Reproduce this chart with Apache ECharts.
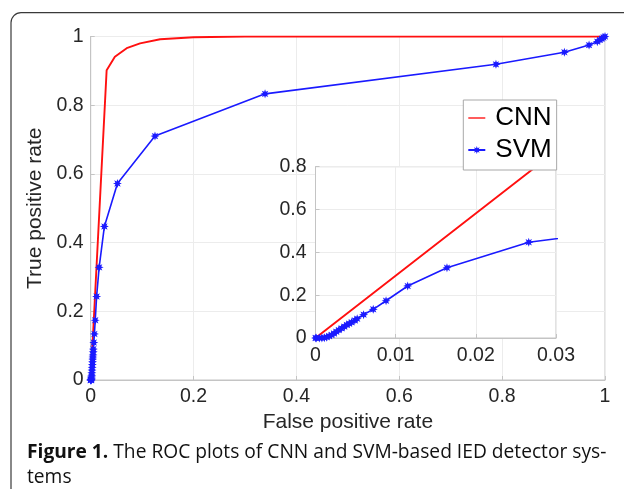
<!DOCTYPE html>
<html>
<head>
<meta charset="utf-8">
<script src="https://cdn.jsdelivr.net/npm/echarts@6/dist/echarts.min.js"></script>
<style>html,body{margin:0;padding:0;background:#fff;}#c{width:624px;height:489px;}</style>
</head>
<body>
<div id="c"></div>
<script>
// ---- data ----
const fprCNN = [0, 0.031, 0.047, 0.07, 0.096, 0.135, 0.2, 0.3, 1];
const tprCNN = [0, 0.902, 0.941, 0.966, 0.98, 0.992, 0.998, 1, 1];
const fprSVM = [0, 0.0001, 0.0005, 0.0008, 0.0011, 0.0014, 0.0017, 0.002, 0.0023, 0.0026, 0.0029, 0.00325, 0.0036, 0.0039, 0.0042, 0.0045, 0.0049, 0.0052, 0.006, 0.0072, 0.0088, 0.0115, 0.0164, 0.0266, 0.052, 0.125, 0.339, 0.788, 0.921, 0.969, 0.985, 0.99, 0.994, 0.997, 1];
const tprSVM = [0, 0, 0, 0, 0.001, 0.004, 0.009, 0.014, 0.021, 0.029, 0.037, 0.045, 0.053, 0.061, 0.067, 0.073, 0.082, 0.09, 0.109, 0.134, 0.174, 0.243, 0.328, 0.447, 0.572, 0.71, 0.833, 0.919, 0.954, 0.975, 0.985, 0.99, 0.994, 0.997, 1];
const seriesNames = ['CNN', 'SVM'];
const mainXLabel = 'False positive rate';
const mainYLabel = 'True positive rate';
const captionBold = 'Figure 1.';
const captionLine1 = ' The ROC plots of CNN and SVM-based IED detector sys-';
const captionLine2 = 'tems';

const zip = (a, b) => a.map((v, i) => [v, b[i]]);
const cnnData = zip(fprCNN, tprCNN);
const svmData = zip(fprSVM, tprSVM);

const RED = '#ff1010';
const BLUE = '#1a1aff';
const TXT = '#262626';
const GRIDC = '#ececec';
const BOX = '#c4c4c4';
const FONT = '"Liberation Sans", Arial, sans-serif';
const STAR = 'path://M5,0 L2.3,0.95 L3.54,3.54 L0.95,2.3 L0,5 L-0.95,2.3 L-3.54,3.54 L-2.3,0.95 L-5,0 L-2.3,-0.95 L-3.54,-3.54 L-0.95,-2.3 L0,-5 L0.95,-2.3 L3.54,-3.54 L2.3,-0.95 Z';
const DASH = 'path://M0,0 L20,0 L20,1.6 L0,1.6 Z';

const G0 = {left: 90.7, top: 36.5, width: 514.3, height: 343.5};
const G1 = {left: 315.5, top: 166.7, width: 240.5, height: 171.3};

function axisCommon(extra) {
  return Object.assign({
    axisLine: {show: true, onZero: false, lineStyle: {color: BOX, width: 1}},
    axisTick: {show: true, inside: true, length: 4, lineStyle: {color: BOX}},
    splitLine: {show: true, lineStyle: {color: GRIDC, width: 1}},
    nameTextStyle: {color: TXT, fontSize: 21, fontFamily: FONT}
  }, extra);
}
const tickLabel = (m) => ({color: TXT, fontSize: 19.5, fontFamily: FONT, margin: m});

const chart = echarts.init(document.getElementById('c'), null, {renderer: 'canvas'});
chart.setOption({
  animation: false,
  backgroundColor: '#fff',
  grid: [
    Object.assign({show: true, borderColor: BOX, borderWidth: 1, backgroundColor: 'transparent', containLabel: false, z: 0}, G0),
    Object.assign({show: true, borderColor: BOX, borderWidth: 1, backgroundColor: '#fff', containLabel: false, z: 2}, G1)
  ],
  xAxis: [
    axisCommon({type: 'value', gridIndex: 0, min: 0, max: 1, interval: 0.2,
      name: mainXLabel, nameLocation: 'middle', nameGap: 27, axisLabel: tickLabel(7)}),
    axisCommon({type: 'value', gridIndex: 1, min: 0, max: 0.03, interval: 0.01, z: 2, axisLabel: tickLabel(8)})
  ],
  yAxis: [
    axisCommon({type: 'value', gridIndex: 0, min: 0, max: 1, interval: 0.2,
      name: mainYLabel, nameLocation: 'middle', nameGap: 36, axisLabel: tickLabel(7)}),
    axisCommon({type: 'value', gridIndex: 1, min: 0, max: 0.8, interval: 0.2, z: 2, axisLabel: tickLabel(9)})
  ],
  legend: {
    data: [{name: seriesNames[0], icon: DASH}, {name: seriesNames[1]}],
    symbolKeepAspect: true,
    orient: 'vertical',
    left: 463.3, top: 100,
    padding: [5, 5, 7, 4],
    itemGap: 6,
    itemWidth: 17, itemHeight: 10,
    backgroundColor: '#fff',
    borderColor: '#a8a8a8', borderWidth: 1, borderRadius: 0,
    textStyle: {color: '#000', fontSize: 26, fontFamily: FONT, lineHeight: 24, padding: [0, 0, 0, 5]},
    z: 6
  },
  graphic: [
    {type: 'rect', z: -10, shape: {x: 11, y: 12.7, width: 700, height: 600, r: 10},
     style: {fill: 'none', stroke: '#3a3a3a', lineWidth: 1.2}},
    {type: 'rect', z: 1, shape: {x: G1.left, y: G1.top, width: G1.width, height: G1.height},
     style: {fill: '#fff'}},
    {type: 'text', left: 27, top: 443, z: 5,
     style: {text: '{b|' + captionBold + '}' + captionLine1, fill: '#111', font: '19.2px "Open Sans", sans-serif',
       rich: {b: {fontWeight: 'bold', fontSize: 19.2, fontFamily: '"Open Sans", sans-serif', fill: '#111'}}}},
    {type: 'text', left: 27, top: 468, z: 5,
     style: {text: captionLine2, fill: '#111', font: '19.2px "Open Sans", sans-serif'}}
  ],
  series: [
    {name: seriesNames[0], type: 'line', xAxisIndex: 0, yAxisIndex: 0, data: cnnData,
     symbol: 'none', lineStyle: {color: RED, width: 1.9}, itemStyle: {color: RED}, z: 3},
    {name: seriesNames[1], type: 'line', xAxisIndex: 0, yAxisIndex: 0, data: svmData,
     symbol: STAR, symbolSize: 9, showSymbol: true, lineStyle: {color: BLUE, width: 1.6}, itemStyle: {color: BLUE}, z: 3},
    {name: seriesNames[0], type: 'line', xAxisIndex: 1, yAxisIndex: 1, data: cnnData,
     symbol: 'none', clip: true, lineStyle: {color: RED, width: 1.9}, itemStyle: {color: RED}, z: 4},
    {name: seriesNames[1], type: 'line', xAxisIndex: 1, yAxisIndex: 1, data: svmData,
     symbol: STAR, symbolSize: 9, showSymbol: true, clip: true, lineStyle: {color: BLUE, width: 1.6}, itemStyle: {color: BLUE}, z: 4}
  ]
});
</script>
</body>
</html>
